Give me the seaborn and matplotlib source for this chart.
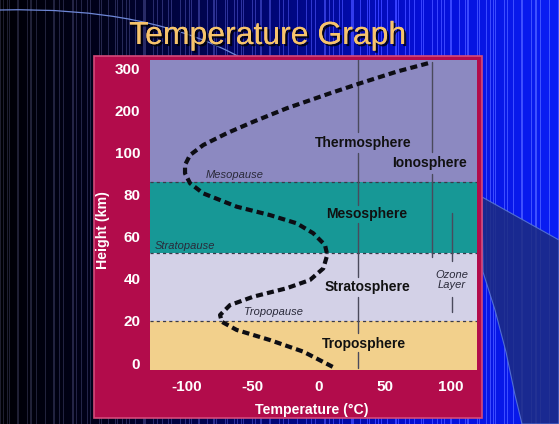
import numpy as np
import pandas as pd
import matplotlib
matplotlib.use("Agg")
import matplotlib.pyplot as plt
import seaborn as sns
from matplotlib import patheffects
from matplotlib.patches import Rectangle, Polygon, PathPatch
from matplotlib.path import Path

# ---------------- data ----------------
temps = [10.5, -11.7, -36.9, -62.1, -73.4, -74.7, -67.2, -49.5, -24.3, -6.7,
         3.4, 6.4, 4.7, -4.2, -16.7, -36.9, -62.1, -87.4, -97.4, -101.2,
         -101.2, -97.4, -87.4, -69.7, -49.5, -24.3, 8.5, 31.2, 58.9, 85.4]
heights = [-1.8, 5.4, 10.9, 15.7, 19.6, 22.8, 27.5, 31.5, 35.5, 39.4,
           44.9, 51.3, 56.0, 61.6, 66.3, 70.2, 74.2, 80.5, 85.3, 90.0,
           94.0, 98.7, 117.3, 145.1, 172.6, 204.4, 240.0, 263.7, 291.3, 313.6]

height_ticks = [0, 20, 40, 60, 80, 100, 200, 300]
temp_ticks = [-100, -50, 0, 50, 100]

layer_names = ["Troposphere", "Stratosphere", "Mesosphere", "Thermosphere"]
layer_bottoms = [-10, 20, 52, 86]
layer_tops = [20, 52, 86, 400]
layer_colors = ["#F2D08C", "#D3D1E7", "#179896", "#8C89C1"]
pause_names = ["Tropopause", "Stratopause", "Mesopause"]
pause_heights = [20, 52, 86]

# vertical marker segments: (temperature, bottom height, top height)
marker_temp = [29.7, 29.7, 29.7, 29.7, 29.7, 85.6, 85.6, 100.7, 100.7]
marker_lo = [148, 75, 40.8, 14.2, -2.4, 101.4, 50.5, 48.6, 24.3]
marker_hi = [330, 99.7, 66.4, 31.3, 5.2, 314, 89.7, 71.0, 31.2]

# ---------------- styling ----------------
sns.set_theme(style="white")
FONT = ["Liberation Sans", "DejaVu Sans"]
plt.rcParams["font.family"] = FONT

W, H = 559, 424
fig = plt.figure(figsize=(W / 100, H / 100), dpi=100)

def fx(px):
    return px / W

def fy(py):
    return 1 - py / H

# background gradient with vertical stripes
cols = np.arange(W)
r = np.interp(cols, [0, 300, 559], [0, 0, 10])
g = np.interp(cols, [0, 250, 420, 559], [0, 5, 15, 30])
b = np.interp(cols, [0, 110, 260, 420, 559], [5, 30, 110, 215, 245])
stripe = ((cols % 9 == 0) | (cols % 14 == 3) | (cols % 23 == 7)).astype(float)
sw = np.interp(cols, [0, 200, 559], [0.55, 0.8, 1.0])
r = np.clip(r + stripe * 55 * sw, 0, 255)
g = np.clip(g + stripe * 55 * sw, 0, 255)
b = np.clip(b + stripe * 75 * sw, 0, 255)
img = np.stack([np.tile(c, (H, 1)) for c in (r, g, b)], axis=-1) / 255.0
bg = fig.add_axes([0, 0, 1, 1], zorder=-10)
bg.imshow(img, aspect="auto", extent=[0, W, H, 0])
bg.set_xlim(0, W)
bg.set_ylim(H, 0)
bg.axis("off")

# dark swoosh on the right
shape = [(482, 197), (559, 240), (559, 424), (522, 424), (515, 395),
         (506, 352), (495, 310), (483, 272)]
bg.add_patch(Polygon(shape, closed=True, facecolor="#1d2c80", alpha=0.85,
                     edgecolor="#5a7ad8", lw=0.8))
# thin arc at top-left
arc = Path([(0, 10), (150, 6), (245, 60)], [Path.MOVETO, Path.CURVE3, Path.CURVE3])
bg.add_patch(PathPatch(arc, facecolor="none", edgecolor="#6f88d8", lw=0.9))

# crimson panel
bg.add_patch(Rectangle((94, 56), 388, 362, facecolor="#B20C4B",
                       edgecolor="#D44A7A", lw=1.2))

# title
fig.text(fx(268), fy(36), "Temperature Graph", ha="center", va="center",
         fontsize=23, color="#F7C46C",
         path_effects=[patheffects.withSimplePatchShadow(offset=(1.5, -1.5),
                                                        shadow_rgbFace="#000000",
                                                        alpha=0.8),
                       patheffects.Normal()])

# ---------------- main axes ----------------
ax = fig.add_axes([fx(150), 1 - 370 / H, (477 - 150) / W, (370 - 60) / H])

hs = [-100] + height_ticks + [1300]
ps = [-5] + list(range(len(height_ticks))) + [17]

def fwd(h):
    return np.interp(h, hs, ps)

def inv(p):
    return np.interp(p, ps, hs)

ax.set_yscale("function", functions=(fwd, inv))

for lo, hi, c in zip(layer_bottoms, layer_tops, layer_colors):
    ax.axhspan(lo, hi, color=c, lw=0, zorder=0)
for h in pause_heights:
    ax.axhline(h, color="#3a3a4a", lw=0.9, ls=(0, (2.5, 2.5)), zorder=1)

for t, lo, hi in zip(marker_temp, marker_lo, marker_hi):
    ax.plot([t, t], [lo, hi], color="#4a4a5c", lw=1.0, zorder=2)

df = pd.DataFrame({"Temperature": temps, "Height": heights})
sns.lineplot(data=df, x="Temperature", y="Height", sort=False, estimator=None,
             ax=ax, color="#0d0d14", lw=3.0, zorder=3)
line = ax.lines[-1]
line.set_linestyle((0, (1.7, 1.0)))
line.set_dash_capstyle("butt")

ax.set_xlim(-127.7, 119.7)
ax.set_ylim(-3.3, 319)
ax.set_xticks(temp_ticks)
ax.set_xticklabels([str(v) for v in temp_ticks])
ax.set_yticks(height_ticks)
ax.set_yticklabels([str(v) for v in height_ticks])
ax.tick_params(length=0, labelsize=11, labelcolor="white", pad=7)
for lab in ax.get_xticklabels() + ax.get_yticklabels():
    lab.set_fontweight("bold")

ax.set_xlabel("Temperature (°C)", color="white", fontsize=10.2, fontweight="bold")
ax.set_ylabel("Height (km)", color="white", fontsize=10.2, fontweight="bold")
ax.xaxis.set_label_coords(0.495, -0.108)
ax.yaxis.set_label_coords(-0.122, 0.45)
for s in ax.spines.values():
    s.set_visible(False)

# layer labels
big = dict(ha="center", va="center", fontsize=10, fontweight="bold",
           color="#111111", zorder=4)
ax.text(33.4, 122, "Thermosphere", **big)
ax.text(84.1, 94.9, "Ionosphere", **big)
ax.text(36.5, 70.7, "Mesosphere", **big)
ax.text(36.5, 36.1, "Stratosphere", **big)
ax.text(34.2, 9.0, "Troposphere", **big)

small = dict(ha="center", va="center", fontsize=8, style="italic",
             color="#2a2a3a", zorder=4)
ax.text(-34.6, 24.2, pause_names[0], **small)
ax.text(-101.2, 55.5, pause_names[1], **small)
ax.text(-63.4, 89.2, pause_names[2], **small)
ax.text(100.7, 39.4, "Ozone\nLayer", linespacing=1.0, **small)

fig.savefig("out.png", dpi=100)
